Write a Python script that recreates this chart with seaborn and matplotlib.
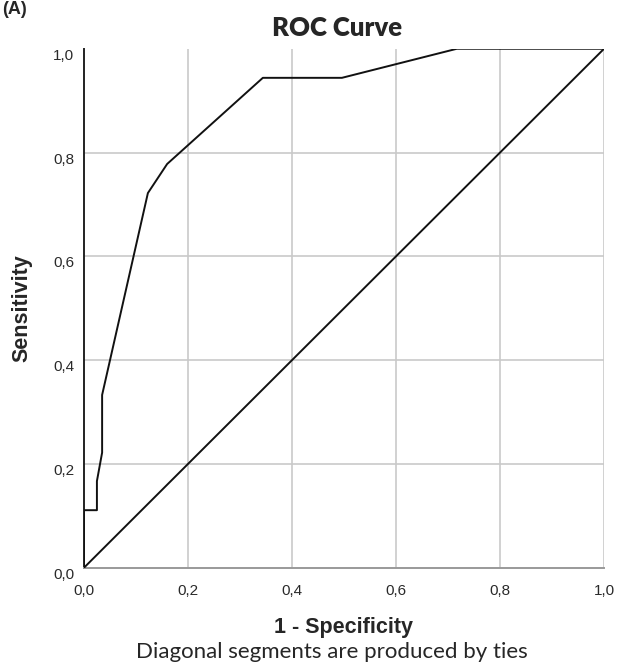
import matplotlib
matplotlib.use("Agg")
import matplotlib.pyplot as plt
import seaborn as sns
import pandas as pd

# ROC curve values
fpr = [0.0, 0.0, 0.025, 0.025, 0.035, 0.035, 0.123, 0.160, 0.344, 0.496, 0.717, 1.0]
tpr = [0.0, 0.111, 0.111, 0.167, 0.222, 0.333, 0.722, 0.778, 0.944, 0.944, 1.0, 1.0]
ref_x = [0.0, 1.0]
ref_y = [0.0, 1.0]
ticks = [0.0, 0.2, 0.4, 0.6, 0.8, 1.0]
tick_labels = ["0,0", "0,2", "0,4", "0,6", "0,8", "1,0"]

sns.set_theme(style="white")
plt.rcParams['font.family'] = ['Liberation Sans', 'DejaVu Sans']

fig = plt.figure(figsize=(6.17, 6.68), dpi=100)
ax = fig.add_axes([0.136, 0.150, 0.843, 0.777])

roc = pd.DataFrame({"fpr": fpr, "tpr": tpr})
ref = pd.DataFrame({"x": ref_x, "y": ref_y})

ax.set_xlim(0, 1)
ax.set_ylim(0, 1)
ax.set_xticks(ticks)
ax.set_yticks(ticks)
ax.set_xticklabels(tick_labels, fontsize=11, color="#2a2a2a")
ax.set_yticklabels(tick_labels, fontsize=11, color="#2a2a2a")
ax.tick_params(axis="x", length=0, pad=12)
ax.tick_params(axis="y", length=0, pad=7)
for lbl in ax.get_yticklabels():
    lbl.set_va("top")

for t in ticks[1:]:
    ax.axvline(t, color="#c9c9c9", lw=1.2, zorder=0)
for t in ticks[1:-1]:
    ax.axhline(t, color="#c9c9c9", lw=1.2, zorder=0)

sns.lineplot(data=ref, x="x", y="y", ax=ax, color="#111111", lw=1.4,
             sort=False, estimator=None, zorder=3)
sns.lineplot(data=roc, x="fpr", y="tpr", ax=ax, color="#111111", lw=1.4,
             sort=False, estimator=None, zorder=3)

for s in ["top", "right"]:
    ax.spines[s].set_visible(False)
ax.spines["left"].set_color("#222222")
ax.spines["left"].set_linewidth(1.4)
ax.spines["bottom"].set_color("#999999")
ax.spines["bottom"].set_linewidth(1.4)

ax.set_xlabel("1 - Specificity", fontsize=15.5, fontweight="bold", va="center")
ax.xaxis.set_label_coords(0.50, -0.1156)
ax.set_ylabel("Sensitivity", fontsize=15.5, fontweight="bold", va="center")
ax.yaxis.set_label_coords(-0.119, 0.5)
ax.set_title("ROC Curve", fontsize=18.5, fontweight="heavy", va="center",
             x=0.4865, y=1.023, family=["Lato", "DejaVu Sans"])
fig.text(0.538, 0.024, "Diagonal segments are produced by ties", ha="center",
         va="center", fontsize=16, family=["Lato", "DejaVu Sans"])
fig.text(0.004, 0.998, "(A)", ha="left", va="top", fontsize=13, fontweight="bold")

fig.savefig("out.png", dpi=100)
